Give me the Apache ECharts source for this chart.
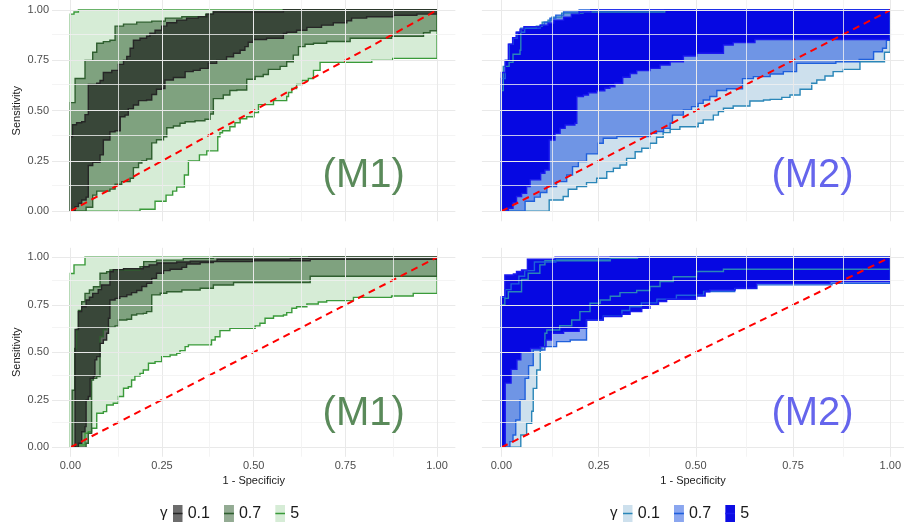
<!DOCTYPE html>
<html>
<head>
<meta charset="utf-8">
<script src="https://cdn.jsdelivr.net/npm/echarts@6/dist/echarts.min.js"></script>
<style>
  html, body { margin: 0; padding: 0; background: #ffffff; }
  #chart { width: 904px; height: 527px; }
</style>
</head>
<body>
<div id="chart"></div>
<script>
// ---- tick values and labels ----
const tickValues = [0, 0.25, 0.5, 0.75, 1];
const gridValues = [0, 0.125, 0.25, 0.375, 0.5, 0.625, 0.75, 0.875, 1];
const gammaLevels = ['0.1', '0.7', '5'];
const panelTags = ['(M1)', '(M2)', '(M1)', '(M2)'];

// ---- ROC bands: staircase corners [1 - specificity, sensitivity] ----
// Each pair of consecutive corners is joined by a horizontal run followed by a rise.

// M1, upper row
const m1aUpper01 = [[0,0],[0,0.37],[0.006,0.43],[0.017,0.44],[0.031,0.445],[0.04,0.48],[0.049,0.63],[0.072,0.636],[0.081,0.65],[0.09,0.69],[0.113,0.70],[0.131,0.73],[0.145,0.75],[0.154,0.77],[0.163,0.81],[0.172,0.85],[0.19,0.86],[0.208,0.87],[0.217,0.885],[0.231,0.90],[0.249,0.92],[0.263,0.937],[0.29,0.95],[0.317,0.96],[0.349,0.967],[0.372,0.98],[0.39,0.99],[0.581,1],[1,1]];
const m1aLower01 = [[0,0],[0.013,0.023],[0.022,0.04],[0.031,0.056],[0.043,0.07],[0.049,0.227],[0.061,0.243],[0.081,0.28],[0.09,0.354],[0.108,0.395],[0.122,0.40],[0.136,0.47],[0.149,0.478],[0.158,0.51],[0.172,0.528],[0.186,0.55],[0.208,0.553],[0.222,0.58],[0.235,0.606],[0.249,0.61],[0.258,0.652],[0.281,0.665],[0.313,0.694],[0.335,0.70],[0.354,0.71],[0.376,0.735],[0.399,0.75],[0.426,0.768],[0.445,0.785],[0.463,0.80],[0.476,0.818],[0.485,0.84],[0.499,0.854],[0.535,0.86],[0.581,0.884],[0.59,0.89],[0.617,0.90],[0.645,0.914],[0.685,0.925],[0.717,0.937],[0.754,0.947],[0.767,0.96],[0.808,0.967],[0.881,0.974],[0.945,0.98],[1,0.98]];
const m1aUpper07 = [[0,0],[0,0.54],[0.013,0.66],[0.04,0.75],[0.061,0.79],[0.072,0.835],[0.09,0.843],[0.108,0.85],[0.122,0.92],[0.145,0.93],[0.181,0.94],[0.222,0.945],[0.259,0.96],[0.304,0.967],[0.369,0.98],[0.39,0.995],[0.581,1],[1,1]];
const m1aLower07 = [[0,0],[0.043,0.02],[0.061,0.08],[0.072,0.10],[0.108,0.11],[0.122,0.134],[0.14,0.147],[0.163,0.164],[0.172,0.217],[0.186,0.24],[0.195,0.25],[0.208,0.26],[0.222,0.34],[0.235,0.355],[0.254,0.37],[0.263,0.415],[0.281,0.424],[0.299,0.437],[0.313,0.445],[0.34,0.45],[0.367,0.457],[0.381,0.483],[0.39,0.56],[0.417,0.578],[0.435,0.60],[0.454,0.603],[0.481,0.656],[0.504,0.67],[0.526,0.68],[0.54,0.705],[0.572,0.72],[0.59,0.743],[0.608,0.776],[0.622,0.818],[0.64,0.83],[0.663,0.835],[0.699,0.844],[0.763,0.86],[0.876,0.87],[0.963,0.887],[0.981,0.897],[1,0.90]];
const m1aUpper5 = [[0,0],[0,0.98],[0.01,0.99],[0.022,1],[1,1]];
const m1aLower5 = [[0,0],[0.19,0.01],[0.231,0.05],[0.261,0.08],[0.279,0.10],[0.29,0.12],[0.311,0.18],[0.322,0.25],[0.352,0.28],[0.372,0.30],[0.402,0.37],[0.408,0.39],[0.415,0.40],[0.435,0.42],[0.449,0.44],[0.463,0.46],[0.481,0.47],[0.501,0.49],[0.513,0.53],[0.554,0.55],[0.59,0.57],[0.595,0.59],[0.604,0.61],[0.617,0.63],[0.631,0.65],[0.649,0.66],[0.663,0.70],[0.681,0.74],[0.822,0.75],[0.879,0.76],[1,0.76]];

// M2, upper row
const m2aUpper01 = [[0,0],[0,0.6],[0.005,0.72],[0.02,0.74],[0.03,0.78],[0.048,0.80],[0.05,0.91],[0.09,0.92],[0.105,0.94],[0.12,0.95],[0.13,0.965],[0.155,0.985],[0.21,0.99],[0.42,1],[1,1]];
const m2aLower01 = [[0,0],[0.123,0.056],[0.159,0.073],[0.172,0.109],[0.194,0.123],[0.219,0.142],[0.245,0.164],[0.271,0.197],[0.288,0.214],[0.305,0.23],[0.322,0.263],[0.344,0.296],[0.361,0.313],[0.382,0.338],[0.399,0.368],[0.416,0.391],[0.434,0.407],[0.459,0.42],[0.506,0.437],[0.519,0.454],[0.545,0.478],[0.558,0.495],[0.571,0.512],[0.596,0.523],[0.639,0.548],[0.674,0.553],[0.691,0.556],[0.721,0.566],[0.742,0.578],[0.768,0.606],[0.798,0.636],[0.811,0.652],[0.832,0.672],[0.853,0.694],[0.879,0.705],[0.922,0.743],[0.985,0.79],[1,0.80]];
const m2aUpper07 = [[0,0],[0,0.66],[0.01,0.75],[0.02,0.83],[0.03,0.86],[0.04,0.89],[0.06,0.91],[0.1,0.925],[0.11,0.94],[0.125,0.96],[0.14,0.975],[0.16,0.99],[0.2,1],[1,1]];
const m2aLower07 = [[0,0],[0.061,0.05],[0.085,0.07],[0.1,0.093],[0.117,0.123],[0.142,0.147],[0.168,0.18],[0.183,0.222],[0.198,0.247],[0.219,0.285],[0.249,0.338],[0.262,0.363],[0.297,0.371],[0.382,0.387],[0.399,0.396],[0.417,0.412],[0.434,0.437],[0.44,0.478],[0.468,0.503],[0.489,0.52],[0.506,0.536],[0.519,0.553],[0.536,0.57],[0.554,0.6],[0.579,0.609],[0.62,0.659],[0.648,0.669],[0.691,0.682],[0.725,0.694],[0.759,0.735],[0.86,0.743],[0.92,0.755],[0.957,0.793],[0.98,0.81],[0.99,0.85],[1,0.854]];
const m2aUpper5 = [[0,0],[0,0.69],[0.01,0.75],[0.018,0.83],[0.029,0.862],[0.038,0.89],[0.048,0.905],[0.058,0.917],[0.1,0.925],[0.12,0.935],[0.135,0.95],[0.16,0.965],[0.18,0.98],[0.2,0.99],[0.23,1],[1,1]];
const m2aLower5 = [[0,0],[0.018,0.015],[0.03,0.043],[0.039,0.073],[0.052,0.089],[0.065,0.123],[0.074,0.156],[0.101,0.189],[0.112,0.205],[0.123,0.354],[0.138,0.387],[0.151,0.412],[0.164,0.429],[0.189,0.437],[0.194,0.57],[0.211,0.578],[0.224,0.589],[0.245,0.599],[0.266,0.611],[0.279,0.619],[0.292,0.636],[0.312,0.666],[0.331,0.685],[0.348,0.699],[0.382,0.71],[0.408,0.727],[0.434,0.743],[0.468,0.772],[0.502,0.785],[0.571,0.826],[0.596,0.838],[0.652,0.854],[1,0.854]];

// M1, lower row
const m1bUpper01 = [[0,0],[0.013,0.62],[0.022,0.714],[0.031,0.74],[0.043,0.775],[0.052,0.79],[0.061,0.81],[0.076,0.83],[0.085,0.854],[0.108,0.924],[0.117,0.935],[0.145,0.94],[0.199,0.95],[0.215,0.96],[0.236,0.97],[0.29,0.975],[0.327,0.98],[0.4,0.99],[0.6,0.995],[0.65,1],[1,1]];
const m1bLower01 = [[0,0],[0.022,0.021],[0.031,0.082],[0.04,0.109],[0.043,0.249],[0.049,0.267],[0.054,0.363],[0.063,0.372],[0.067,0.46],[0.072,0.477],[0.081,0.547],[0.09,0.565],[0.099,0.6],[0.104,0.679],[0.108,0.775],[0.122,0.784],[0.135,0.793],[0.154,0.802],[0.167,0.814],[0.181,0.825],[0.195,0.846],[0.208,0.863],[0.222,0.889],[0.235,0.916],[0.254,0.93],[0.272,0.937],[0.304,0.947],[0.317,0.965],[0.354,0.972],[0.39,0.977],[0.499,0.982],[0.654,0.989],[1,0.989]];
const m1bUpper07 = [[0,0],[0.005,0.3],[0.012,0.52],[0.017,0.62],[0.022,0.72],[0.031,0.766],[0.04,0.81],[0.052,0.828],[0.063,0.845],[0.081,0.916],[0.099,0.924],[0.108,0.933],[0.19,0.95],[0.2,0.977],[0.235,0.985],[0.308,0.995],[0.39,1],[1,1]];
const m1bLower07 = [[0,0],[0.043,0.021],[0.049,0.074],[0.058,0.354],[0.063,0.363],[0.072,0.372],[0.081,0.582],[0.09,0.618],[0.099,0.632],[0.122,0.639],[0.131,0.67],[0.154,0.674],[0.167,0.696],[0.181,0.702],[0.199,0.705],[0.208,0.714],[0.222,0.802],[0.245,0.811],[0.263,0.819],[0.304,0.828],[0.354,0.837],[0.39,0.854],[0.445,0.867],[0.654,0.9],[1,0.9]];
const m1bUpper5 = [[0,0],[0,0.915],[0.01,0.96],[0.04,1],[1,1]];
const m1bLower5 = [[0,0],[0.022,0.012],[0.04,0.074],[0.049,0.082],[0.058,0.1],[0.072,0.179],[0.09,0.188],[0.099,0.223],[0.117,0.232],[0.131,0.267],[0.145,0.311],[0.158,0.319],[0.167,0.354],[0.176,0.375],[0.19,0.389],[0.199,0.407],[0.213,0.442],[0.231,0.451],[0.249,0.477],[0.272,0.486],[0.29,0.495],[0.299,0.509],[0.313,0.53],[0.322,0.539],[0.385,0.565],[0.395,0.582],[0.408,0.614],[0.435,0.626],[0.504,0.639],[0.517,0.653],[0.531,0.679],[0.554,0.691],[0.581,0.696],[0.59,0.709],[0.604,0.732],[0.617,0.74],[0.645,0.754],[0.676,0.765],[0.699,0.772],[0.772,0.789],[0.876,0.796],[0.935,0.81],[1,0.81]];

// M2, lower row
const m2bUpper01 = [[0,0],[0,0.75],[0.009,0.784],[0.018,0.819],[0.052,0.884],[0.069,0.916],[0.099,0.96],[0.112,0.982],[0.28,0.995],[0.35,1],[1,1]];
const m2bLower01 = [[0,0],[0.05,0.065],[0.065,0.126],[0.078,0.19],[0.082,0.31],[0.091,0.407],[0.1,0.512],[0.104,0.53],[0.112,0.6],[0.117,0.617],[0.15,0.64],[0.181,0.67],[0.202,0.714],[0.228,0.758],[0.254,0.775],[0.28,0.795],[0.305,0.814],[0.348,0.825],[0.382,0.846],[0.408,0.872],[0.442,0.898],[0.502,0.925],[0.571,0.937],[1,0.937]];
const m2bUpper07 = [[0,0],[0,0.79],[0.01,0.83],[0.025,0.86],[0.045,0.9],[0.06,0.93],[0.085,0.975],[0.14,0.99],[0.28,1],[1,1]];
const m2bLower07 = [[0,0],[0.022,0.03],[0.03,0.065],[0.037,0.144],[0.048,0.249],[0.061,0.363],[0.07,0.43],[0.082,0.512],[0.112,0.53],[0.142,0.556],[0.177,0.565],[0.219,0.67],[0.262,0.69],[0.31,0.72],[0.33,0.74],[0.36,0.76],[0.4,0.78],[0.45,0.8],[0.52,0.82],[0.6,0.835],[0.657,0.855],[0.85,0.863],[1,0.863]];
const m2bUpper5 = [[0,0],[0,0.793],[0.009,0.907],[0.031,0.912],[0.039,0.925],[0.052,0.933],[0.067,0.99],[0.138,1],[1,1]];
const m2bLower5 = [[0,0],[0.01,0.338],[0.025,0.41],[0.04,0.46],[0.05,0.5],[0.075,0.52],[0.1,0.53],[0.115,0.565],[0.13,0.6],[0.16,0.61],[0.2,0.626],[0.219,0.67],[0.262,0.688],[0.309,0.70],[0.331,0.714],[0.361,0.732],[0.382,0.749],[0.404,0.767],[0.425,0.779],[0.502,0.796],[0.524,0.819],[0.536,0.828],[0.601,0.837],[0.656,0.863],[0.845,0.873],[1,0.873]];

// chance diagonal
const chanceLine = [[0, 0], [1, 1]];

// ---- styling ----
const FONT = 'Liberation Sans, Arial, Helvetica, sans-serif';

// fill: [r, g, b, alpha]; line: outline colour
const greenStyle = {
  '0.1': { fill: [10, 10, 10, 0.6], line: '#262626' },
  '0.7': { fill: [40, 88, 40, 0.5], line: '#2f5f2f' },
  '5':   { fill: [50, 160, 50, 0.2], line: '#3a9a3a' }
};
const blueStyle = {
  '0.1': { fill: [100, 160, 200, 0.32], line: '#2a86b8' },
  '0.7': { fill: [0, 60, 220, 0.46], line: '#1f60dc' },
  '5':   { fill: [0, 0, 225, 0.95], line: '#1a1aee' }
};

// right-hand panels run past the page edge, so their axis stops where the page does
const panels = [
  { grid: { left: 52, top: 0, width: 403.4, height: 221.3 }, xMax: 1.05, palette: greenStyle, order: ['5', '0.7', '0.1'],
    bands: { '0.1': [m1aUpper01, m1aLower01], '0.7': [m1aUpper07, m1aLower07], '5': [m1aUpper5, m1aLower5] },
    tagColor: '#5a8a5a', yTitle: 'Sensitivity', xTitle: null },
  { grid: { left: 481.9, top: 0, width: 422.1, height: 221.3 }, xMax: 1.0352, palette: blueStyle, order: ['0.1', '0.7', '5'],
    bands: { '0.1': [m2aUpper01, m2aLower01], '0.7': [m2aUpper07, m2aLower07], '5': [m2aUpper5, m2aLower5] },
    tagColor: '#6565ec', yTitle: null, xTitle: null },
  { grid: { left: 52, top: 247.8, width: 403.4, height: 209 }, xMax: 1.05, palette: greenStyle, order: ['5', '0.7', '0.1'],
    bands: { '0.1': [m1bUpper01, m1bLower01], '0.7': [m1bUpper07, m1bLower07], '5': [m1bUpper5, m1bLower5] },
    tagColor: '#5a8a5a', yTitle: 'Sensitivity', xTitle: '1 - Specificiy' },
  { grid: { left: 481.9, top: 247.8, width: 422.1, height: 209 }, xMax: 1.0352, palette: blueStyle, order: ['0.1', '0.7', '5'],
    bands: { '0.1': [m2bUpper01, m2bLower01], '0.7': [m2bUpper07, m2bLower07], '5': [m2bUpper5, m2bLower5] },
    tagColor: '#6565ec', yTitle: null, xTitle: '1 - Specificity' }
];

function rgba(c) { return 'rgba(' + c[0] + ',' + c[1] + ',' + c[2] + ',' + c[3] + ')'; }

// expand staircase corners into the full outline
function stairs(pts) {
  const out = [pts[0]];
  for (let i = 1; i < pts.length; i++) {
    out.push([pts[i][0], pts[i - 1][1]]);
    out.push(pts[i]);
  }
  return out;
}
function bandPolygon(upper, lower) {
  return stairs(upper).concat(stairs(lower).reverse());
}

// legend key: shaded box with the outline colour across the middle
function keyIcon(style) {
  const f = style.fill;
  const svg = '<svg xmlns="http://www.w3.org/2000/svg" width="10" height="17">' +
    '<rect width="10" height="17" fill="#ffffff"/>' +
    '<rect width="10" height="17" fill="rgb(' + f[0] + ',' + f[1] + ',' + f[2] + ')" fill-opacity="' + f[3] + '"/>' +
    '<line x1="0" y1="8.5" x2="10" y2="8.5" stroke="' + style.line + '" stroke-width="1.6"/></svg>';
  return 'image://data:image/svg+xml;charset=utf-8,' + encodeURIComponent(svg);
}

const grids = [], xAxes = [], yAxes = [], series = [];

panels.forEach(function (p, i) {
  grids.push(Object.assign({ containLabel: false }, p.grid));
  const showX = p.xTitle !== null;
  const showY = p.yTitle !== null;
  xAxes.push({
    type: 'value', gridIndex: i, min: -0.05, max: p.xMax,
    axisLine: { show: false }, axisTick: { show: false }, splitLine: { show: false },
    axisLabel: {
      show: showX, customValues: tickValues, margin: 4,
      formatter: function (v) { return v.toFixed(2); },
      color: '#4d4d4d', fontSize: 11, fontFamily: FONT
    },
    name: p.xTitle || '', nameLocation: 'middle', nameGap: 19,
    nameTextStyle: { color: '#1a1a1a', fontSize: 11, fontFamily: FONT }
  });
  yAxes.push({
    type: 'value', gridIndex: i, min: -0.05, max: 1.05,
    axisLine: { show: false }, axisTick: { show: false }, splitLine: { show: false },
    axisLabel: {
      show: showY, customValues: tickValues, margin: 3,
      formatter: function (v) { return v.toFixed(2); },
      color: '#4d4d4d', fontSize: 11, fontFamily: FONT
    },
    name: p.yTitle || '', nameLocation: 'middle', nameRotate: 90, nameGap: 30,
    nameTextStyle: { color: '#1a1a1a', fontSize: 11, fontFamily: FONT }
  });

  // panel grid lines
  const gridLines = [];
  gridValues.forEach(function (v) {
    const major = tickValues.indexOf(v) >= 0;
    const ls = { color: major ? '#e9e9e9' : '#f1f1f1', width: major ? 1 : 0.8, type: 'solid' };
    gridLines.push({ xAxis: v, lineStyle: ls });
    gridLines.push({ yAxis: v, lineStyle: ls });
  });
  series.push({
    type: 'line', xAxisIndex: i, yAxisIndex: i, data: [], z: 1, silent: true,
    markLine: { silent: true, symbol: ['none', 'none'], label: { show: false }, animation: false, data: gridLines }
  });

  // band fills, then outlines on top
  p.order.forEach(function (g) {
    const poly = bandPolygon(p.bands[g][0], p.bands[g][1]);
    const st = p.palette[g];
    series.push({
      type: 'custom', name: g, xAxisIndex: i, yAxisIndex: i, z: 2, silent: true,
      data: [[0, 0]],
      renderItem: function (params, api) {
        return { type: 'polygon', shape: { points: poly.map(function (pt) { return api.coord(pt); }) },
                 style: { fill: rgba(st.fill), stroke: 'none' } };
      }
    });
  });
  p.order.forEach(function (g) {
    const poly = bandPolygon(p.bands[g][0], p.bands[g][1]);
    const st = p.palette[g];
    series.push({
      type: 'custom', xAxisIndex: i, yAxisIndex: i, z: 3, silent: true,
      data: [[0, 0]],
      renderItem: function (params, api) {
        return { type: 'polygon', shape: { points: poly.map(function (pt) { return api.coord(pt); }) },
                 style: { fill: 'none', stroke: st.line, lineWidth: 1.4, lineJoin: 'miter' } };
      }
    });
  });

  // chance line
  series.push({
    type: 'line', xAxisIndex: i, yAxisIndex: i, z: 4, silent: true,
    data: chanceLine, showSymbol: false, symbol: 'none',
    lineStyle: { color: '#ff0000', width: 2, type: [7, 5] }
  });

  // model tag
  series.push({
    type: 'scatter', xAxisIndex: i, yAxisIndex: i, z: 5, silent: true,
    data: [[0.8, 0.175]], symbolSize: 0,
    itemStyle: { opacity: 1 },
    label: { show: true, position: 'inside', formatter: panelTags[i], opacity: 1,
             fontSize: 40, color: p.tagColor, fontFamily: FONT }
  });
});

const legendText = { fontSize: 16, color: '#1a1a1a', fontFamily: FONT };

const option = {
  backgroundColor: '#ffffff',
  animation: false,
  grid: grids,
  xAxis: xAxes,
  yAxis: yAxes,
  series: series,
  title: [
    { text: 'γ', left: 160, top: 505, padding: 0, textStyle: { fontSize: 15, fontWeight: 'normal', color: '#1a1a1a', fontFamily: FONT } },
    { text: 'γ', left: 610, top: 505, padding: 0, textStyle: { fontSize: 15, fontWeight: 'normal', color: '#1a1a1a', fontFamily: FONT } }
  ],
  legend: [
    { left: 172.7, top: 505, padding: 0, itemWidth: 10, itemHeight: 17, itemGap: 14, selectedMode: false,
      textStyle: legendText,
      data: gammaLevels.map(function (g) { return { name: g, icon: keyIcon(greenStyle[g]) }; }) },
    { left: 622.7, top: 505, padding: 0, itemWidth: 10, itemHeight: 17, itemGap: 14, selectedMode: false,
      textStyle: legendText,
      data: gammaLevels.map(function (g) { return { name: g, icon: keyIcon(blueStyle[g]) }; }) }
  ]
};

const chart = echarts.init(document.getElementById('chart'), null, { renderer: 'canvas' });
chart.setOption(option);
</script>
</body>
</html>
